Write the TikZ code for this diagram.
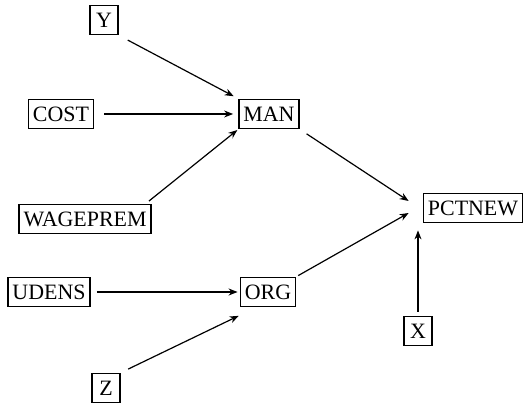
\documentclass[tikz,border=0pt]{standalone}
\usepackage{fontspec}
\setmainfont{Liberation Serif}
\usetikzlibrary{arrows.meta}

\begin{document}
\begin{tikzpicture}[x=0.5bp,y=-0.5bp,>={Stealth[length=4.5bp,width=3.5bp]}]
    \tikzstyle{var}=[draw=black, line width=0.9bp, rectangle, inner xsep=2.2bp, inner ysep=0pt, minimum height=14.5bp, minimum width=14bp, font=\fontsize{11}{13}\selectfont]
    \tikzstyle{link}=[->, line width=0.6bp]
    \useasboundingbox (0,0) rectangle (524,405);

    % causes
    \node[var] (Y) at (104,20) {Y};
    \node[var] (COST) at (61,114) {COST};
    \node[var] (WAGEPREM) at (85,219) {WAGEPREM};
    \node[var] (UDENS) at (49,292) {UDENS};
    \node[var] (Z) at (106,388) {Z};
    \node[var] (X) at (418,331) {X};
    % middle layer
    \node[var] (MAN) at (269,114) {MAN};
    \node[var] (ORG) at (268,292) {ORG};
    \node[var] (PCTNEW) at (473,208) {PCTNEW};

    \path (Y.south east) edge[link, shorten <=5bp, shorten >=2.5bp] (MAN.north west);
    \path (COST) edge[link, shorten <=5bp, shorten >=2.5bp] (MAN);
    \path ([xshift=-3bp]WAGEPREM.north east) edge[link, shorten <=2bp, shorten >=0.5bp] (MAN.south west);
    \path (UDENS) edge[link, shorten <=3bp, shorten >=1bp] (ORG);
    \path (Z.north east) edge[link, shorten <=4bp, shorten >=0.5bp] ([yshift=-4bp]ORG.south west);
    \path (MAN.south east) edge[link, shorten <=4bp] ([xshift=-7bp, yshift=3.5bp]PCTNEW.west);
    \path (ORG.north east) edge[link, shorten <=1bp] ([xshift=-7bp, yshift=-2.5bp]PCTNEW.west);
    \path (X.north) edge[link, shorten <=2bp, shorten >=3.5bp] (X.north |- PCTNEW.south);
\end{tikzpicture}
\end{document}
